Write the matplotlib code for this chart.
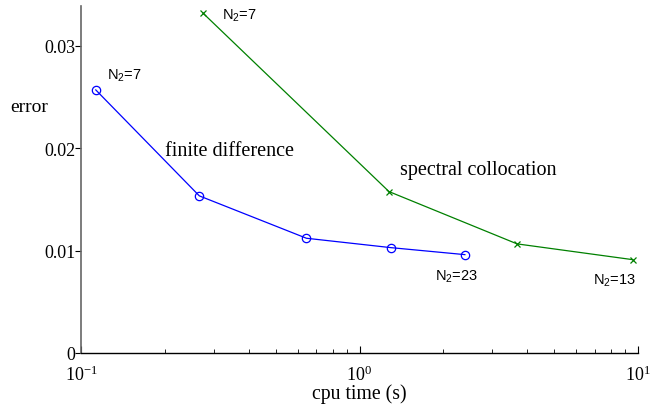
import matplotlib
matplotlib.use("Agg")
import matplotlib.pyplot as plt
from matplotlib.ticker import FixedLocator, LogLocator, NullFormatter

# finite difference (blue circles)
fd_time = [0.113, 0.266, 0.645, 1.30, 2.39]
fd_error = [0.0257, 0.01535, 0.01121, 0.01029, 0.00961]

# spectral collocation (green crosses)
sc_time = [0.275, 1.276, 3.68, 9.57]
sc_error = [0.03317, 0.01577, 0.01066, 0.00912]

y_ticks = [0, 0.01, 0.02, 0.03]
y_tick_labels = ["0", "0.01", "0.02", "0.03"]

serif = ["Liberation Serif", "DejaVu Serif"]
sans = ["Liberation Sans", "DejaVu Sans"]

plt.rcParams["mathtext.fontset"] = "custom"
plt.rcParams["mathtext.rm"] = "Liberation Sans"
plt.rcParams["mathtext.it"] = "Liberation Sans:italic"

fig = plt.figure(figsize=(6.6, 4.06), dpi=100)
ax = fig.add_axes([81 / 660, 1 - 354 / 406, (638 - 81) / 660, (354 - 7) / 406])

ax.plot(fd_time, fd_error, color="#0000ff", lw=0.9, marker="o", ms=6,
        mfc="none", mew=0.9)
ax.plot(sc_time, sc_error, color="#008000", lw=0.9, marker="x", ms=4, mew=0.9)

ax.set_xscale("log")
ax.set_xlim(0.1, 10)
ax.set_ylim(0, 0.0339)

ax.xaxis.set_major_locator(FixedLocator([0.1, 1, 10]))
ax.xaxis.set_minor_locator(LogLocator(base=10, subs=range(2, 10)))
ax.xaxis.set_minor_formatter(NullFormatter())
ax.set_yticks(y_ticks, labels=y_tick_labels)

for lab in ax.get_xticklabels() + ax.get_yticklabels():
    lab.set_family(serif)
    lab.set_fontsize(13)

ax.tick_params(axis="x", which="major", direction="in", length=5, width=0.8, pad=8)
ax.tick_params(axis="x", which="minor", direction="in", length=3, width=0.6)
ax.tick_params(axis="y", direction="out", length=4, width=0.8, pad=0)

ax.spines["top"].set_visible(False)
ax.spines["right"].set_visible(False)
ax.spines["left"].set_color("#666666")
ax.spines["left"].set_linewidth(1.2)
ax.spines["bottom"].set_linewidth(1.0)

ax.set_xlabel("cpu time (s)", family=serif, fontsize=14.2, labelpad=0)
fig.text(10 / 660, 1 - 108 / 406, "error", family=serif, fontsize=14,
         ha="left", va="center")

ax.text(0.200, 0.01975, "finite difference", family=serif, fontsize=14.5,
        va="center")
ax.text(1.397, 0.01789, "spectral collocation", family=serif, fontsize=14.5,
        va="center")

ax.text(0.124, 0.02678, "N$_2$=7", family=sans, fontsize=10.5)
ax.text(0.321, 0.03265, "N$_2$=7", family=sans, fontsize=10.5)
ax.text(1.866, 0.00714, "N$_2$=23", family=sans, fontsize=10.5)
ax.text(6.88, 0.00674, "N$_2$=13", family=sans, fontsize=10.5)

fig.savefig("out.png", dpi=100)
